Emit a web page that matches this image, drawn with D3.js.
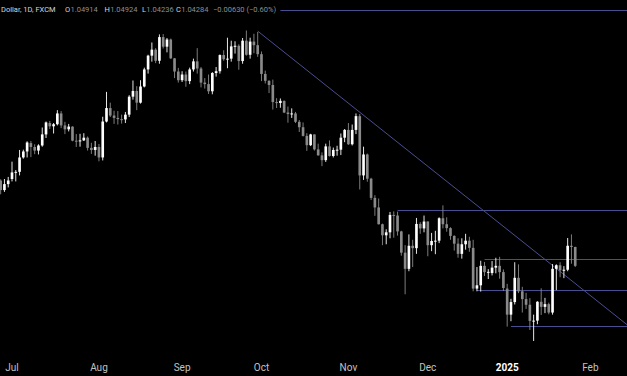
<!DOCTYPE html>
<html>
<head>
<meta charset="utf-8">
<script src="https://cdn.jsdelivr.net/npm/d3@7"></script>
<style>
  html, body { margin: 0; padding: 0; background: #000; }
  #chart { width: 627px; height: 376px; }
</style>
</head>
<body>
<div id="chart"></div>
<script>
// daily candles, one row per trading day: [open, high, low, close]
const jun = [
  [1.0713, 1.0717, 1.0667, 1.0681], [1.0681, 1.0718, 1.0675, 1.0701], [1.0701, 1.0725, 1.0690, 1.0713]
];
const jul = [
  [1.0718, 1.0776, 1.0710, 1.0740], [1.0740, 1.0748, 1.0710, 1.0742], [1.0742, 1.0815, 1.0730, 1.0790],
  [1.0790, 1.0816, 1.0786, 1.0810], [1.0810, 1.0844, 1.0790, 1.0840], [1.0838, 1.0845, 1.0791, 1.0825],
  [1.0825, 1.0834, 1.0801, 1.0813], [1.0813, 1.0834, 1.0800, 1.0830], [1.0830, 1.0890, 1.0826, 1.0867],
  [1.0867, 1.0910, 1.0855, 1.0907], [1.0905, 1.0912, 1.0885, 1.0894], [1.0894, 1.0905, 1.0870, 1.0901],
  [1.0901, 1.0948, 1.0897, 1.0937], [1.0937, 1.0945, 1.0888, 1.0897], [1.0897, 1.0909, 1.0868, 1.0884],
  [1.0884, 1.0902, 1.0877, 1.0893], [1.0893, 1.0894, 1.0844, 1.0846], [1.0846, 1.0868, 1.0825, 1.0844],
  [1.0844, 1.0869, 1.0826, 1.0847], [1.0847, 1.0871, 1.0845, 1.0856], [1.0856, 1.0860, 1.0813, 1.0822],
  [1.0822, 1.0839, 1.0802, 1.0815], [1.0815, 1.0845, 1.0796, 1.0825]
];
const aug = [
  [1.0825, 1.0835, 1.0777, 1.0790], [1.0790, 1.0926, 1.0780, 1.0910], [1.0910, 1.1009, 1.0907, 1.0955],
  [1.0955, 1.0973, 1.0925, 1.0930], [1.0930, 1.0946, 1.0902, 1.0922], [1.0922, 1.0945, 1.0900, 1.0918],
  [1.0918, 1.0933, 1.0903, 1.0917], [1.0917, 1.0942, 1.0905, 1.0933], [1.0933, 1.0998, 1.0925, 1.0993],
  [1.0993, 1.1047, 1.0983, 1.1012], [1.1012, 1.1028, 1.0948, 1.0973], [1.0973, 1.1048, 1.0970, 1.1027],
  [1.1027, 1.1090, 1.1024, 1.1084], [1.1084, 1.1133, 1.1070, 1.1130], [1.1130, 1.1174, 1.1110, 1.1150],
  [1.1150, 1.1155, 1.1105, 1.1113], [1.1113, 1.1201, 1.1103, 1.1192], [1.1192, 1.1202, 1.1154, 1.1160],
  [1.1160, 1.1189, 1.1141, 1.1184], [1.1184, 1.1187, 1.1119, 1.1121], [1.1121, 1.1122, 1.1055, 1.1077],
  [1.1077, 1.1089, 1.1040, 1.1048]
];
const sep = [
  [1.1048, 1.1078, 1.1042, 1.1067], [1.1067, 1.1077, 1.1026, 1.1045], [1.1045, 1.1090, 1.1035, 1.1084],
  [1.1084, 1.1120, 1.1077, 1.1111], [1.1111, 1.1155, 1.1070, 1.1087], [1.1087, 1.1092, 1.1024, 1.1040],
  [1.1040, 1.1055, 1.1020, 1.1035], [1.1035, 1.1067, 1.1002, 1.1011], [1.1011, 1.1075, 1.1001, 1.1072],
  [1.1072, 1.1092, 1.1060, 1.1078], [1.1078, 1.1134, 1.1070, 1.1132], [1.1132, 1.1148, 1.1113, 1.1118],
  [1.1118, 1.1190, 1.1088, 1.1120], [1.1120, 1.1180, 1.1110, 1.1161], [1.1161, 1.1178, 1.1137, 1.1163],
  [1.1163, 1.1168, 1.1083, 1.1112], [1.1112, 1.1189, 1.1103, 1.1180], [1.1180, 1.1214, 1.1130, 1.1133],
  [1.1133, 1.1190, 1.1120, 1.1177], [1.1177, 1.1203, 1.1138, 1.1165], [1.1165, 1.1209, 1.1126, 1.1135]
];
const oct = [
  [1.1135, 1.1144, 1.1045, 1.1069], [1.1069, 1.1080, 1.1037, 1.1046], [1.1046, 1.1048, 1.1005, 1.1032],
  [1.1032, 1.1050, 1.0950, 1.0975], [1.0975, 1.0988, 1.0955, 1.0972], [1.0972, 1.0987, 1.0956, 1.0979],
  [1.0979, 1.0980, 1.0938, 1.0940], [1.0940, 1.0960, 1.0906, 1.0935], [1.0935, 1.0954, 1.0922, 1.0937],
  [1.0937, 1.0942, 1.0905, 1.0909], [1.0909, 1.0915, 1.0875, 1.0891], [1.0891, 1.0907, 1.0860, 1.0862],
  [1.0862, 1.0871, 1.0812, 1.0831], [1.0831, 1.0869, 1.0828, 1.0867], [1.0867, 1.0867, 1.0813, 1.0817],
  [1.0817, 1.0836, 1.0796, 1.0797], [1.0797, 1.0807, 1.0761, 1.0781], [1.0781, 1.0836, 1.0775, 1.0827],
  [1.0827, 1.0847, 1.0793, 1.0795], [1.0795, 1.0823, 1.0790, 1.0815], [1.0815, 1.0829, 1.0796, 1.0816],
  [1.0816, 1.0870, 1.0798, 1.0856], [1.0856, 1.0885, 1.0841, 1.0882]
];
const nov = [
  [1.0882, 1.0905, 1.0832, 1.0834], [1.0834, 1.0900, 1.0830, 1.0882], [1.0882, 1.0937, 1.0868, 1.0928],
  [1.0928, 1.0935, 1.0683, 1.0730], [1.0730, 1.0826, 1.0715, 1.0800], [1.0800, 1.0803, 1.0709, 1.0719],
  [1.0719, 1.0722, 1.0648, 1.0655], [1.0655, 1.0664, 1.0595, 1.0623], [1.0623, 1.0653, 1.0566, 1.0567],
  [1.0567, 1.0569, 1.0497, 1.0530], [1.0530, 1.0550, 1.0500, 1.0540], [1.0540, 1.0608, 1.0520, 1.0598],
  [1.0598, 1.0610, 1.0522, 1.0596], [1.0596, 1.0609, 1.0529, 1.0543], [1.0543, 1.0545, 1.0462, 1.0472],
  [1.0472, 1.0497, 1.0333, 1.0418], [1.0418, 1.0533, 1.0410, 1.0495], [1.0495, 1.0515, 1.0424, 1.0487],
  [1.0487, 1.0588, 1.0468, 1.0568], [1.0568, 1.0574, 1.0535, 1.0553], [1.0553, 1.0596, 1.0540, 1.0576]
];
const dec = [
  [1.0576, 1.0577, 1.0460, 1.0497], [1.0497, 1.0538, 1.0477, 1.0511], [1.0511, 1.0545, 1.0467, 1.0512],
  [1.0512, 1.0590, 1.0504, 1.0587], [1.0587, 1.0630, 1.0553, 1.0567], [1.0567, 1.0590, 1.0542, 1.0554],
  [1.0554, 1.0557, 1.0515, 1.0528], [1.0528, 1.0530, 1.0479, 1.0502], [1.0502, 1.0520, 1.0455, 1.0468],
  [1.0468, 1.0520, 1.0452, 1.0500], [1.0500, 1.0535, 1.0482, 1.0512], [1.0512, 1.0525, 1.0475, 1.0488],
  [1.0488, 1.0515, 1.0343, 1.0352], [1.0352, 1.0424, 1.0343, 1.0363], [1.0363, 1.0445, 1.0342, 1.0428],
  [1.0428, 1.0441, 1.0394, 1.0407], [1.0407, 1.0417, 1.0384, 1.0408], [1.0404, 1.0444, 1.0396, 1.0422],
  [1.0422, 1.0455, 1.0403, 1.0428], [1.0428, 1.0458, 1.0385, 1.0407], [1.0407, 1.0416, 1.0344, 1.0354]
];
const jan = [
  [1.0352, 1.0368, 1.0225, 1.0265], [1.0265, 1.0318, 1.0243, 1.0307], [1.0307, 1.0440, 1.0299, 1.0388],
  [1.0388, 1.0433, 1.0337, 1.0343], [1.0343, 1.0358, 1.0272, 1.0317], [1.0317, 1.0338, 1.0284, 1.0298],
  [1.0298, 1.0320, 1.0214, 1.0244], [1.0244, 1.0265, 1.0177, 1.0245], [1.0245, 1.0310, 1.0233, 1.0308],
  [1.0308, 1.0353, 1.0264, 1.0291], [1.0291, 1.0321, 1.0270, 1.0300], [1.0300, 1.0305, 1.0266, 1.0272],
  [1.0272, 1.0434, 1.0265, 1.0418], [1.0418, 1.0433, 1.0347, 1.0430], [1.0430, 1.0440, 1.0390, 1.0413],
  [1.0413, 1.0427, 1.0387, 1.0415], [1.0415, 1.0521, 1.0410, 1.0495], [1.0495, 1.0533, 1.0435, 1.0491],
  [1.0491, 1.0492, 1.0424, 1.0428]
];

const firstDay = "2024-06-26";
const lastSlot = "2025-02-03";
const holidays = ["2024-12-25", "2025-01-01"];

const tickDates = ["2024-07-01", "2024-08-01", "2024-09-02", "2024-10-01", "2024-11-01", "2024-12-02", "2025-01-02", "2025-02-03"];
const tickLabels = ["Jul", "Aug", "Sep", "Oct", "Nov", "Dec", "2025", "Feb"];

// drawn levels and trendline
const levels = [1.1284, 1.0614, 1.0451, 1.0347, 1.0227];
const levelStarts = ["2024-06-26", "2024-11-20", "2024-12-23", "2024-12-19", "2025-01-03"];
const trendDates = ["2024-09-30", "2025-01-28"];
const trendPrices = [1.1212, 1.0369];

// legend text
const legendTitle = "Dollar, 1D, FXCM";
const legendKeys = ["O", "H", "L", "C"];
const legendVals = ["1.04914", "1.04924", "1.04236", "1.04284"];
const legendChange = "\u22120.00630 (\u22120.60%)";

//1. SVG
const width = 627;
const height = 376;

const svg = d3.select("#chart")
    .append("svg")
    .attr("width", width)
    .attr("height", height)
    .style("background", "#000")
    .style("display", "block");

//2. TRADING DAYS (weekdays without the two holidays)
const fmt = d3.utcFormat("%Y-%m-%d");
const slots = d3.utcDays(new Date(firstDay), d3.utcDay.offset(new Date(lastSlot), 1))
    .filter(d => d.getUTCDay() !== 0 && d.getUTCDay() !== 6)
    .map(fmt)
    .filter(s => !holidays.includes(s));

const candles = [].concat(jun, jul, aug, sep, oct, nov, dec, jan).map(function(c, i) {
    return {day: slots[i], o: c[0], h: c[1], l: c[2], c: c[3]};
});

//3. SCALES
const xScale = d3.scaleBand()
    .domain(slots)
    .range([-1.23, 592.23])
    .paddingInner(0.3)
    .paddingOuter(0.15);

const cx = d => xScale(d) + xScale.bandwidth() / 2;

const yScale = d3.scaleLinear()
    .domain([1.01302, 1.13159])
    .range([355, 0]);

//4. LEVELS + TRENDLINE
const lineColor = "#4a4e90";

svg.selectAll(".level")
    .data(levels)
    .enter()
    .append("line")
        .attr("class", "level")
        .attr("x1", (d, i) => i === 0 ? 0 : cx(levelStarts[i]))
        .attr("x2", width)
        .attr("y1", d => Math.round(yScale(d)) + 0.5)
        .attr("y2", d => Math.round(yScale(d)) + 0.5)
        .style("stroke", lineColor)
        .style("stroke-width", 1);

const tx0 = cx(trendDates[0]), ty0 = yScale(trendPrices[0]);
const tx1 = cx(trendDates[1]), ty1 = yScale(trendPrices[1]);
const slope = (ty1 - ty0) / (tx1 - tx0);

svg.append("line")
    .attr("x1", tx0)
    .attr("y1", ty0)
    .attr("x2", width)
    .attr("y2", ty0 + slope * (width - tx0))
    .style("stroke", lineColor)
    .style("stroke-width", 1);

//5. CANDLES
const upColor = "#ffffff";
const downColor = "#8a8a8a";
const col = d => d.c >= d.o ? upColor : downColor;

svg.selectAll(".wick")
    .data(candles)
    .enter()
    .append("line")
        .attr("class", "wick")
        .attr("x1", d => cx(d.day))
        .attr("x2", d => cx(d.day))
        .attr("y1", d => yScale(d.h))
        .attr("y2", d => yScale(d.l))
        .style("stroke", col)
        .style("stroke-width", 0.9);

svg.selectAll(".body")
    .data(candles)
    .enter()
    .append("rect")
        .attr("class", "body")
        .attr("x", d => xScale(d.day))
        .attr("width", xScale.bandwidth())
        .attr("y", d => yScale(Math.max(d.o, d.c)))
        .attr("height", d => Math.max(1, Math.abs(yScale(d.o) - yScale(d.c))))
        .style("fill", col);

//6. X AXIS
const xAxis = svg.append("g")
    .attr("transform", "translate(0,360)")
    .call(d3.axisBottom(xScale)
        .tickValues(tickDates)
        .tickFormat((d, i) => tickLabels[i])
        .tickSize(0)
        .tickPadding(4));

xAxis.select(".domain").remove();
xAxis.selectAll("text")
    .style("font-family", "Roboto, 'Noto Sans', sans-serif")
    .style("font-size", "10px")
    .style("fill", d => d.startsWith("2025-01") ? "#ffffff" : "#c2c2c2")
    .style("font-weight", d => d.startsWith("2025-01") ? "bold" : "normal");

//7. LEGEND
const legend = svg.append("g")
    .style("font-family", "Roboto, 'Noto Sans', sans-serif")
    .style("font-size", "7.5px");

const legendBg = legend.append("rect").style("fill", "#000");

legend.append("text")
    .attr("x", 1)
    .attr("y", 12)
    .style("fill", "#d6d6d6")
    .text(legendTitle);

const keyX = [65, 104.5, 142, 176];
legendKeys.forEach(function(k, i) {
    const key = legend.append("text")
        .attr("x", keyX[i])
        .attr("y", 12)
        .style("fill", "#d6d6d6")
        .text(k);
    legend.append("text")
        .attr("x", keyX[i] + key.node().getComputedTextLength() + 0.3)
        .attr("y", 12)
        .style("fill", "#8f8f8f")
        .text(legendVals[i]);
});

legend.append("text")
    .attr("x", 213)
    .attr("y", 12)
    .style("fill", "#8f8f8f")
    .text(legendChange);

const bb = legend.node().getBBox();
legendBg
    .attr("x", 0)
    .attr("y", bb.y - 1)
    .attr("width", bb.x + bb.width + 4)
    .attr("height", bb.height + 2);
</script>
</body>
</html>
